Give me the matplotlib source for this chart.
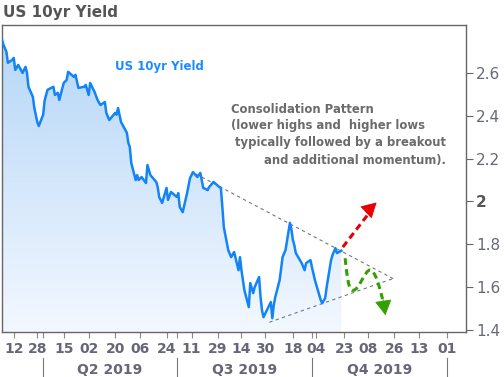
import numpy as np
import pandas as pd
import matplotlib
matplotlib.use('Agg')
import matplotlib.pyplot as plt
import matplotlib.dates as mdates
from matplotlib.colors import LinearSegmentedColormap
from matplotlib.patches import Polygon, PathPatch
from matplotlib.path import Path
from matplotlib.transforms import blended_transform_factory

# US 10yr yield
dates = [
    '2019-03-04', '2019-03-05', '2019-03-07', '2019-03-08', '2019-03-11', '2019-03-12',
    '2019-03-13', '2019-03-15', '2019-03-18', '2019-03-20', '2019-03-21', '2019-03-22',
    '2019-03-25', '2019-03-26', '2019-03-27', '2019-03-28', '2019-03-29', '2019-04-01',
    '2019-04-02', '2019-04-03', '2019-04-04', '2019-04-08', '2019-04-09', '2019-04-11',
    '2019-04-12', '2019-04-15', '2019-04-17', '2019-04-18', '2019-04-22', '2019-04-23',
    '2019-04-25', '2019-04-29', '2019-04-30', '2019-05-02', '2019-05-03', '2019-05-06',
    '2019-05-08', '2019-05-10', '2019-05-13', '2019-05-14', '2019-05-16', '2019-05-20',
    '2019-05-21', '2019-05-22', '2019-05-24', '2019-05-28', '2019-05-29', '2019-05-30',
    '2019-05-31', '2019-06-03', '2019-06-04', '2019-06-05', '2019-06-07', '2019-06-10',
    '2019-06-11', '2019-06-13', '2019-06-17', '2019-06-18', '2019-06-19', '2019-06-21',
    '2019-06-24', '2019-06-25', '2019-06-27', '2019-07-01', '2019-07-02', '2019-07-03',
    '2019-07-05', '2019-07-08', '2019-07-10', '2019-07-12', '2019-07-15', '2019-07-17',
    '2019-07-19', '2019-07-22', '2019-07-23', '2019-07-26', '2019-07-30', '2019-07-31',
    '2019-08-01', '2019-08-02', '2019-08-05', '2019-08-07', '2019-08-09', '2019-08-12',
    '2019-08-13', '2019-08-14', '2019-08-16', '2019-08-19', '2019-08-20', '2019-08-22',
    '2019-08-23', '2019-08-26', '2019-08-27', '2019-08-28', '2019-08-29', '2019-09-03',
    '2019-09-04', '2019-09-05', '2019-09-06', '2019-09-09', '2019-09-11', '2019-09-13',
    '2019-09-16', '2019-09-17', '2019-09-18', '2019-09-19', '2019-09-20', '2019-09-24',
    '2019-09-26', '2019-09-27', '2019-09-30', '2019-10-01', '2019-10-03', '2019-10-07',
    '2019-10-08', '2019-10-10', '2019-10-11', '2019-10-14', '2019-10-15', '2019-10-17',
    '2019-10-18', '2019-10-21',
]
yields = [
    2.754, 2.731, 2.698, 2.647, 2.661, 2.670,
    2.614, 2.637, 2.600, 2.628, 2.600, 2.535,
    2.488, 2.436, 2.404, 2.371, 2.352, 2.404,
    2.470, 2.497, 2.521, 2.535, 2.497, 2.507,
    2.474, 2.553, 2.567, 2.605, 2.581, 2.591,
    2.530, 2.535, 2.544, 2.497, 2.553, 2.511,
    2.474, 2.450, 2.464, 2.413, 2.380, 2.413,
    2.405, 2.436, 2.371, 2.320, 2.273, 2.254,
    2.179, 2.100, 2.123, 2.100, 2.114, 2.086,
    2.170, 2.123, 2.091, 2.067, 2.021, 1.993,
    2.063, 2.007, 2.044, 2.021, 2.039, 1.974,
    1.950, 2.039, 2.109, 2.137, 2.114, 2.133,
    2.063, 2.053, 2.067, 2.091, 2.067, 2.063,
    1.974, 1.880, 1.773, 1.740, 1.764, 1.679,
    1.740, 1.679, 1.586, 1.507, 1.619, 1.572,
    1.600, 1.647, 1.553, 1.492, 1.460, 1.530,
    1.455, 1.516, 1.553, 1.633, 1.740, 1.773,
    1.900, 1.870, 1.820, 1.796, 1.759, 1.712,
    1.679, 1.712, 1.726, 1.693, 1.633, 1.539,
    1.525, 1.549, 1.600, 1.726, 1.750, 1.782,
    1.759, 1.770,
]

tick_dates = ['2019-03-12', '2019-03-28', '2019-04-15', '2019-05-02', '2019-05-20',
              '2019-06-06', '2019-06-24', '2019-07-11', '2019-07-29', '2019-08-14',
              '2019-08-30', '2019-09-18', '2019-10-04', '2019-10-23', '2019-11-08',
              '2019-11-26', '2019-12-13', '2020-01-01']
quarter_starts = ['2019-04-01', '2019-07-01', '2019-10-01', '2020-01-01']
quarter_labels = ['Q2 2019', 'Q3 2019', 'Q4 2019']
y_ticks = [1.4, 1.6, 1.8, 2.0, 2.2, 2.4, 2.6]
y_labels = ['1.4', '1.6', '1.8', '2', '2.2', '2.4', '2.6']

# consolidation triangle (start, end) and projected paths
upper_trend = (('2019-07-14', 2.128), ('2019-11-26', 1.637))
lower_trend = (('2019-09-02', 1.436), ('2019-11-26', 1.642))
red_line = (('2019-10-22', 1.787), ('2019-11-08', 1.938))
red_head = (('2019-11-07', 1.950), ('2019-11-14', 1.995))
green_curve = [('2019-10-23 14:00', 1.735),
               ('2019-10-25', 1.64), ('2019-10-26', 1.585), ('2019-10-29', 1.585),
               ('2019-11-02', 1.585), ('2019-11-06', 1.68), ('2019-11-09 12:00', 1.68),
               ('2019-11-13', 1.68), ('2019-11-16', 1.60), ('2019-11-18', 1.545)]
green_head = (('2019-11-18', 1.560), ('2019-11-20', 1.469))


def dn(s):
    return mdates.date2num(pd.Timestamp(s))


x = mdates.date2num(pd.to_datetime(dates))
y = np.array(yields)
x_lo, x_hi = dn('2019-03-04'), dn('2020-01-14')
y_lo, y_hi = 1.39, 2.824

fig = plt.figure(figsize=(5.04, 3.77), dpi=100)
ax = fig.add_axes([0.004, 0.119, 0.921, 0.815])

# gradient fill under the line
cmap = LinearSegmentedColormap.from_list('fade', ['#f3f8ff', '#b3d5f7'])
grad = np.linspace(0, 1, 256).reshape(-1, 1)
im = ax.imshow(grad, extent=[x_lo, x_hi, y_lo, y_hi], aspect='auto',
               cmap=cmap, origin='lower', zorder=1)
verts = list(zip(x, y)) + [(x[-1], y_lo), (x[0], y_lo)]
clip = Polygon(verts, closed=True, facecolor='none', edgecolor='none')
ax.add_patch(clip)
im.set_clip_path(clip)

ax.plot(x, y, color='#1284f7', lw=1.8, zorder=3)

# trend lines
for (d0, v0), (d1, v1) in (upper_trend, lower_trend):
    ax.plot([dn(d0), dn(d1)], [v0, v1], color='#777777', lw=0.8,
            ls=(0, (3, 3)), zorder=2)

dash = (0, (2.2, 1.4))
head = '-|>,head_length=0.8,head_width=0.45'

# red breakout arrow
(d0, v0), (d1, v1) = red_line
ax.plot([dn(d0), dn(d1)], [v0, v1], color='#e80000', lw=2.2, ls=dash,
        solid_capstyle='butt', dash_capstyle='butt', zorder=4)
(d0, v0), (d1, v1) = red_head
ax.annotate('', xy=(dn(d1), v1), xytext=(dn(d0), v0),
            arrowprops=dict(arrowstyle=head, lw=0.6, color='#e80000',
                            shrinkA=0, shrinkB=0, mutation_scale=12), zorder=4)

# green wiggle arrow
g_pts = [(dn(d), v) for d, v in green_curve]
g_codes = [Path.MOVETO] + [Path.CURVE4] * (len(g_pts) - 1)
ax.add_patch(PathPatch(Path(g_pts, g_codes), facecolor='none', edgecolor='#33a000',
                       lw=2.2, ls=dash, capstyle='butt', zorder=4))
(d0, v0), (d1, v1) = green_head
ax.annotate('', xy=(dn(d1), v1), xytext=(dn(d0), v0),
            arrowprops=dict(arrowstyle=head, lw=0.6, color='#33a000',
                            shrinkA=0, shrinkB=0, mutation_scale=12), zorder=4)

ax.set_xlim(x_lo, x_hi)
ax.set_ylim(y_lo, y_hi)

# axes styling
for s in ax.spines.values():
    s.set_color('#666666')
    s.set_linewidth(1.0)

ax.yaxis.tick_right()
ax.set_yticks(y_ticks)
ax.set_yticklabels(y_labels)
ax.tick_params(axis='y', length=5, width=0.8, color='#666666', pad=2,
               labelsize=11, labelcolor='#66697a')
for lab in ax.get_yticklabels():
    if lab.get_text() == '2':
        lab.set_fontweight('bold')
        lab.set_color('#555560')

ax.set_xticks(mdates.date2num(pd.to_datetime(tick_dates)))
ax.xaxis.set_major_formatter(mdates.DateFormatter('%d'))
ax.set_xticks(mdates.date2num(pd.to_datetime(quarter_starts)), minor=True)
ax.tick_params(axis='x', which='major', length=4, width=0.8, color='#888888',
               pad=3, labelsize=10, labelcolor='#666677')
ax.tick_params(axis='x', which='minor', length=4, width=0.8, color='#888888')
for lab in ax.get_xticklabels():
    lab.set_fontweight('bold')

# quarter band under the axis
tr = blended_transform_factory(ax.transData, ax.transAxes)
qx = mdates.date2num(pd.to_datetime(quarter_starts))
for xv in qx:
    ax.plot([xv, xv], [-0.085, -0.16], transform=tr, color='#777777',
            lw=0.8, clip_on=False)
for i, lab in enumerate(quarter_labels):
    ax.text((qx[i] + qx[i + 1]) / 2, -0.124, lab, transform=tr, ha='center',
            va='center', fontsize=10, fontweight='bold', color='#666677')

# titles and notes
fig.text(0.006, 0.968, 'US 10yr Yield', ha='left', va='center', fontsize=11,
         fontweight='bold', color='#555555')
ax.text(0.34, 0.865, 'US 10yr Yield', transform=ax.transAxes, ha='center',
        va='center', fontsize=8.5, fontweight='bold', color='#1a8cff')

note_kw = dict(transform=ax.transAxes, va='center', fontsize=8.4,
               fontweight='bold', color='#6b6b6b')
ax.text(0.493, 0.726, 'Consolidation Pattern', ha='left', **note_kw)
ax.text(0.493, 0.671, '(lower highs and  higher lows', ha='left', **note_kw)
ax.text(0.957, 0.616, 'typically followed by a breakout', ha='right', **note_kw)
ax.text(0.957, 0.560, 'and additional momentum).', ha='right', **note_kw)

fig.savefig('out.png', dpi=100)
